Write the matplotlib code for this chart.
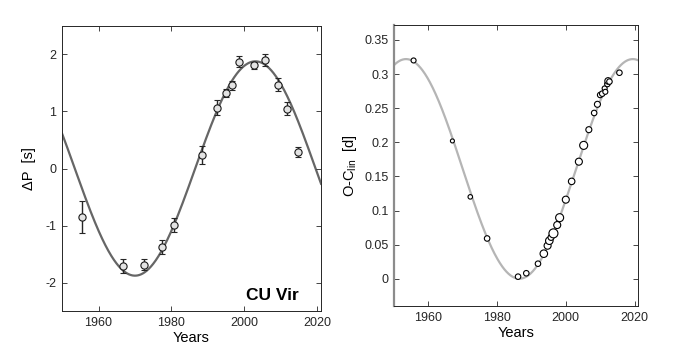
"""
Period change and O-C diagram of CU Vir, two panels side by side.
"""

import matplotlib
matplotlib.use("Agg")
import matplotlib.pyplot as plt
import numpy as np

# --- left panel: period change (s) with error bars ---
dp_years = [1955.5, 1966.8, 1972.5, 1977.5, 1980.8, 1988.4, 1992.6, 1995.0,
            1996.6, 1998.6, 2002.5, 2005.5, 2009.1, 2011.7, 2014.7]
dp_values = [-0.85, -1.71, -1.69, -1.38, -0.99, 0.24, 1.07, 1.33,
             1.46, 1.87, 1.81, 1.90, 1.47, 1.05, 0.29]
dp_errors = [0.28, 0.13, 0.095, 0.12, 0.13, 0.16, 0.13, 0.07,
             0.075, 0.095, 0.065, 0.10, 0.11, 0.11, 0.08]

# --- right panel: O-C residuals (d), marker size ~ weight ---
oc_years = [1955.7, 1967.0, 1972.2, 1977.1, 1986.1, 1988.5, 1991.9, 1993.6,
            1994.7, 1995.2, 1995.7, 1996.4, 1997.5, 1998.2, 2000.0, 2001.7,
            2003.8, 2005.2, 2006.7, 2008.25, 2009.2, 2010.0, 2010.6, 2011.3,
            2011.5, 2012.1, 2012.3, 2012.7, 2015.6]
oc_values = [0.320, 0.202, 0.120, 0.059, 0.003, 0.008, 0.022, 0.0367,
             0.0484, 0.0557, 0.0606, 0.0665, 0.0787, 0.0895, 0.1159, 0.1427,
             0.1716, 0.1955, 0.2185, 0.243, 0.2557, 0.2694, 0.2713, 0.279,
             0.274, 0.2855, 0.290, 0.289, 0.302]
oc_sizes = [5, 4, 4.5, 5.5, 5.5, 5.5, 5.5, 7.5,
            7, 7.5, 6, 9, 7, 8, 7, 6.5,
            7, 8, 6, 5.5, 6, 5.5, 5.5, 5,
            5, 5.5, 6.5, 5.5, 5.5]

# sinusoidal model (parameters)
period = 66.0          # yr
t_zero = 1986.5        # upward zero crossing of dP / minimum of O-C
dp_amp = 1.88          # s
oc_mid = 0.161         # d
oc_amp = 0.161         # d

plt.rcParams['font.family'] = ['Liberation Sans', 'DejaVu Sans']
plt.rcParams['axes.unicode_minus'] = False
plt.rcParams['mathtext.fontset'] = 'custom'
plt.rcParams['mathtext.rm'] = 'Liberation Sans'
plt.rcParams['mathtext.it'] = 'Liberation Sans'

fig = plt.figure(figsize=(6.9, 3.48), dpi=100, facecolor='white')
ax1 = fig.add_axes([0.0899, 0.1063, 0.3754, 0.819])
ax2 = fig.add_axes([0.571, 0.1207, 0.3536, 0.8075])

t = np.linspace(1950, 2021, 600)
phase = 2 * np.pi * (t - t_zero) / period

# left panel
ax1.plot(t, dp_amp * np.sin(phase), color='#666666', lw=1.6, zorder=1)
ax1.errorbar(dp_years, dp_values, yerr=dp_errors, fmt='o', ms=5.2,
             mfc='#e3e3e3', mec='#1a1a1a', mew=0.8, ecolor='#262626',
             elinewidth=1.0, capsize=2.2, capthick=0.9, zorder=3)
ax1.set_xlim(1950, 2021)
ax1.set_ylim(-2.5, 2.5)
ax1.set_xticks([1960, 1980, 2000, 2020])
ax1.set_yticks([-2, -1, 0, 1, 2])
ax1.set_xlabel('Years', fontsize=10.5, labelpad=1.5)
ax1.set_ylabel('\u0394P  [s]', fontsize=10.5, labelpad=7)
ax1.text(0.915, 0.04, 'CU Vir', transform=ax1.transAxes, ha='right',
         va='baseline', fontsize=12.5, fontweight='bold')

# right panel
ax2.plot(t, oc_mid - oc_amp * np.cos(phase), color='#b5b5b5', lw=1.6, zorder=1)
ax2.scatter(oc_years, oc_values, s=np.array(oc_sizes) ** 2 * 0.52,
            facecolors='white', edgecolors='black', linewidths=0.8, zorder=3)
ax2.set_xlim(1950, 2021)
ax2.set_ylim(-0.04, 0.372)
ax2.set_xticks([1960, 1980, 2000, 2020])
ax2.set_yticks(np.arange(0, 0.351, 0.05))
ax2.set_yticklabels(['0', '0.05', '0.1', '0.15', '0.2', '0.25', '0.3', '0.35'])
ax2.set_xlabel('Years', fontsize=10.5, labelpad=1.5)
ax2.set_ylabel(r'O-C$_{\rm lin}$  [d]', fontsize=10.5, labelpad=4)

for ax in (ax1, ax2):
    ax.tick_params(direction='in', top=True, right=True, length=3.5,
                   width=0.6, labelsize=9, colors='#262626', pad=4)
    for sp in ax.spines.values():
        sp.set_color('#262626')
        sp.set_linewidth(0.7)
ax2.spines['left'].set_color('#8c8c8c')
ax2.spines['left'].set_linewidth(1.6)

fig.savefig('out.png', dpi=100, facecolor='white')
